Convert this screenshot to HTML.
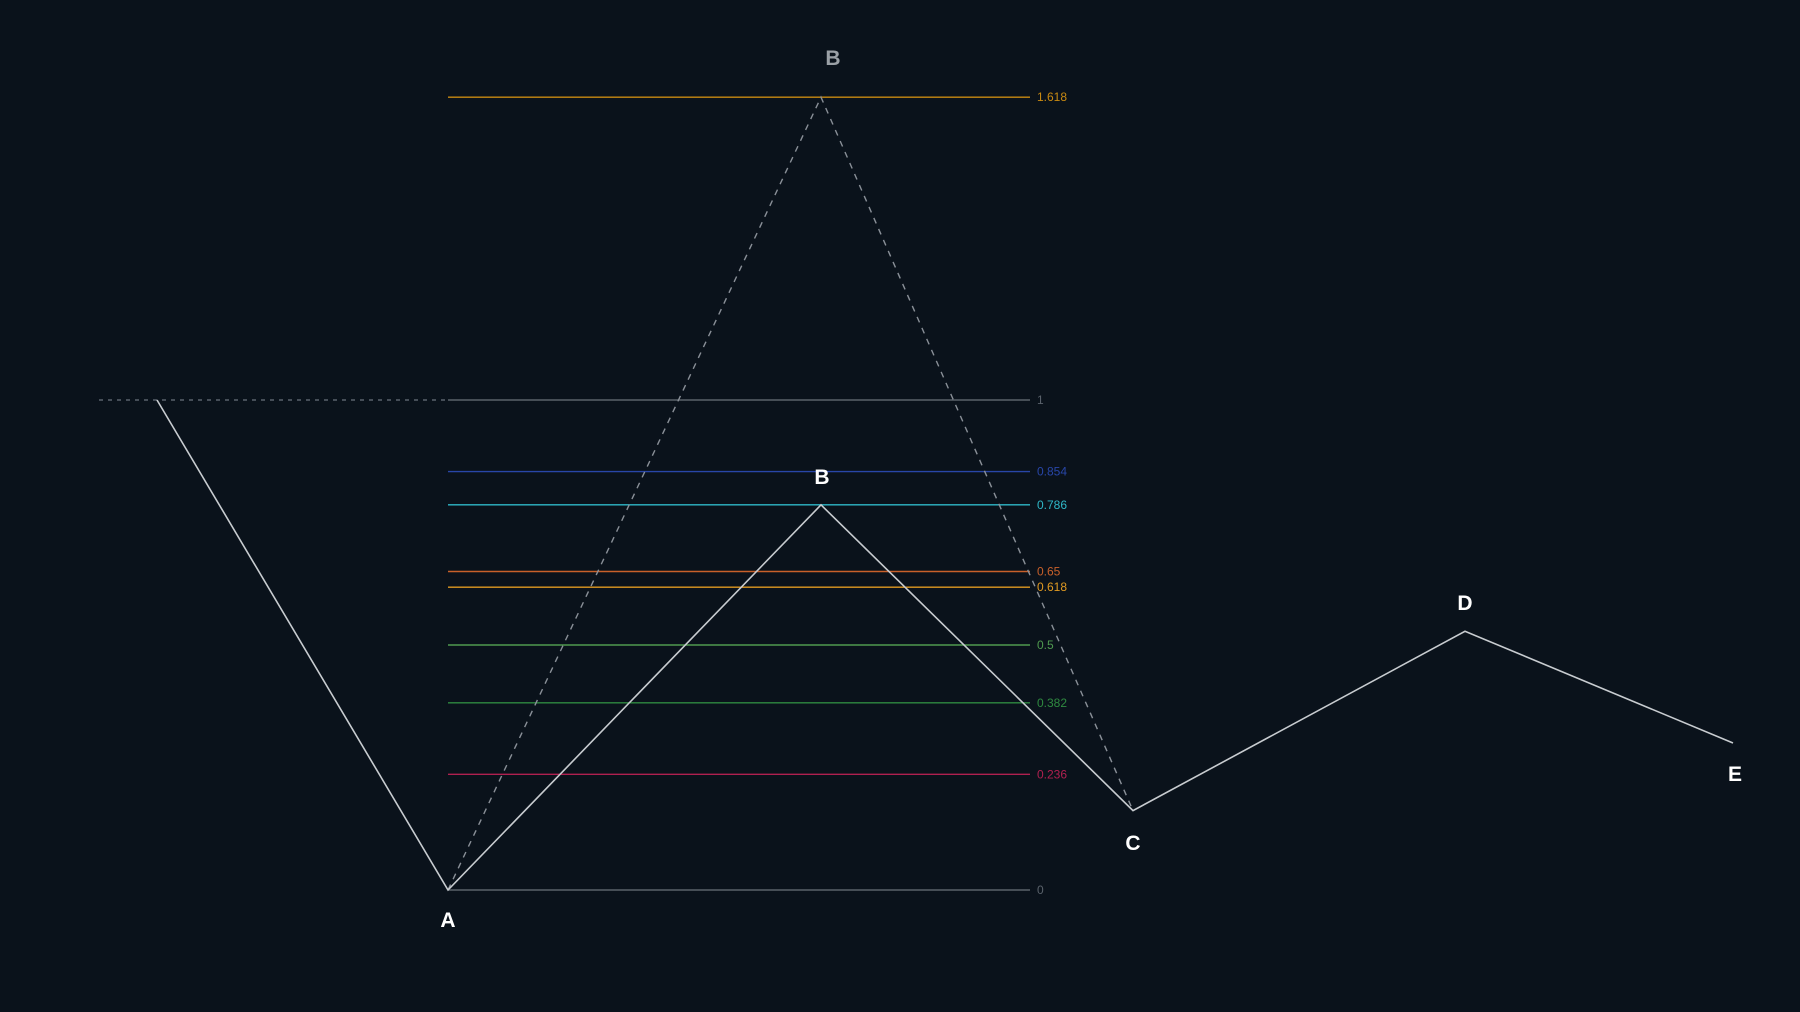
<!DOCTYPE html>
<html><head><meta charset="utf-8"><style>
html,body{margin:0;padding:0;background:#0a121b;}
svg{display:block}
text{font-family:"Liberation Sans",sans-serif;}
</style></head><body>
<svg id="chart" width="1800" height="1012" viewBox="0 0 1800 1012">
<rect width="1800" height="1012" fill="#0a121b"/>
<g id="levels"></g>
<g id="waves"></g>
<g id="labels"></g>
</svg>
<script>
const levelValues=[1.618,1,0.854,0.786,0.65,0.618,0.5,0.382,0.236,0];
const levelLabels=["1.618","1","0.854","0.786","0.65","0.618","0.5","0.382","0.236","0"];
const levelColors=["#c98a12","#5a626b","#2846a8","#2fb8c8","#c8602a","#e09a22","#4f9a4f","#2f8a40","#b02050","#5a626b"];
const waveNames=["start","A","B","C","D","E"];
const waveX=[157,448,821,1133,1465,1733];
const waveY=[1,0,0.786,0.162,0.528,0.3];
const projNames=["A","B","C"];
const projX=[448,821,1133];
const projY=[0,1.618,0.162];
const ns="http://www.w3.org/2000/svg";
const y0=890,unit=490;
function yS(v){return y0-v*unit;}
const lx0=448,lx1=1030;
const gL=document.getElementById('levels');
const gW=document.getElementById('waves');
const gT=document.getElementById('labels');
function mk(tag,attrs,parent){const e=document.createElementNS(ns,tag);for(const k in attrs)e.setAttribute(k,attrs[k]);parent.appendChild(e);return e;}
const ext=mk('line',{x1:99,x2:lx0,y1:yS(1),y2:yS(1),stroke:'#6a727c','stroke-width':1.3,'stroke-dasharray':'4 5'},gL);


levelValues.forEach((v,i)=>{
  const l=mk('line',{x1:lx0,x2:lx1,y1:yS(v),y2:yS(v),stroke:levelColors[i],'stroke-width':1.4},gL);
  
  
  const t=mk('text',{x:lx1+7,y:yS(v)+4,fill:levelColors[i],'font-size':12},gL);
  t.textContent=levelLabels[i];
  
  
});
const pp=mk('polyline',{points:projX.map((x,i)=>x+','+yS(projY[i])).join(' '),fill:'none',stroke:'#8a9098','stroke-width':1.4,'stroke-dasharray':'6 6'},gW);


const wp=mk('polyline',{points:waveX.map((x,i)=>x+','+yS(waveY[i])).join(' '),fill:'none',stroke:'#c8ccd0','stroke-width':1.6},gW);


const lbl=[["A",448,927,"#ffffff"],["B",822,484,"#ffffff"],["C",1133,850,"#ffffff"],["D",1465,610,"#ffffff"],["E",1735,781,"#ffffff"],["B",833,65,"#9aa0a6"]];
lbl.forEach((d,i)=>{
  const t=mk('text',{x:d[1],y:d[2],fill:d[3],'font-size':21,'font-weight':'bold','text-anchor':'middle'},gT);
  t.textContent=d[0];
  
  
});
</script>
</body></html>
